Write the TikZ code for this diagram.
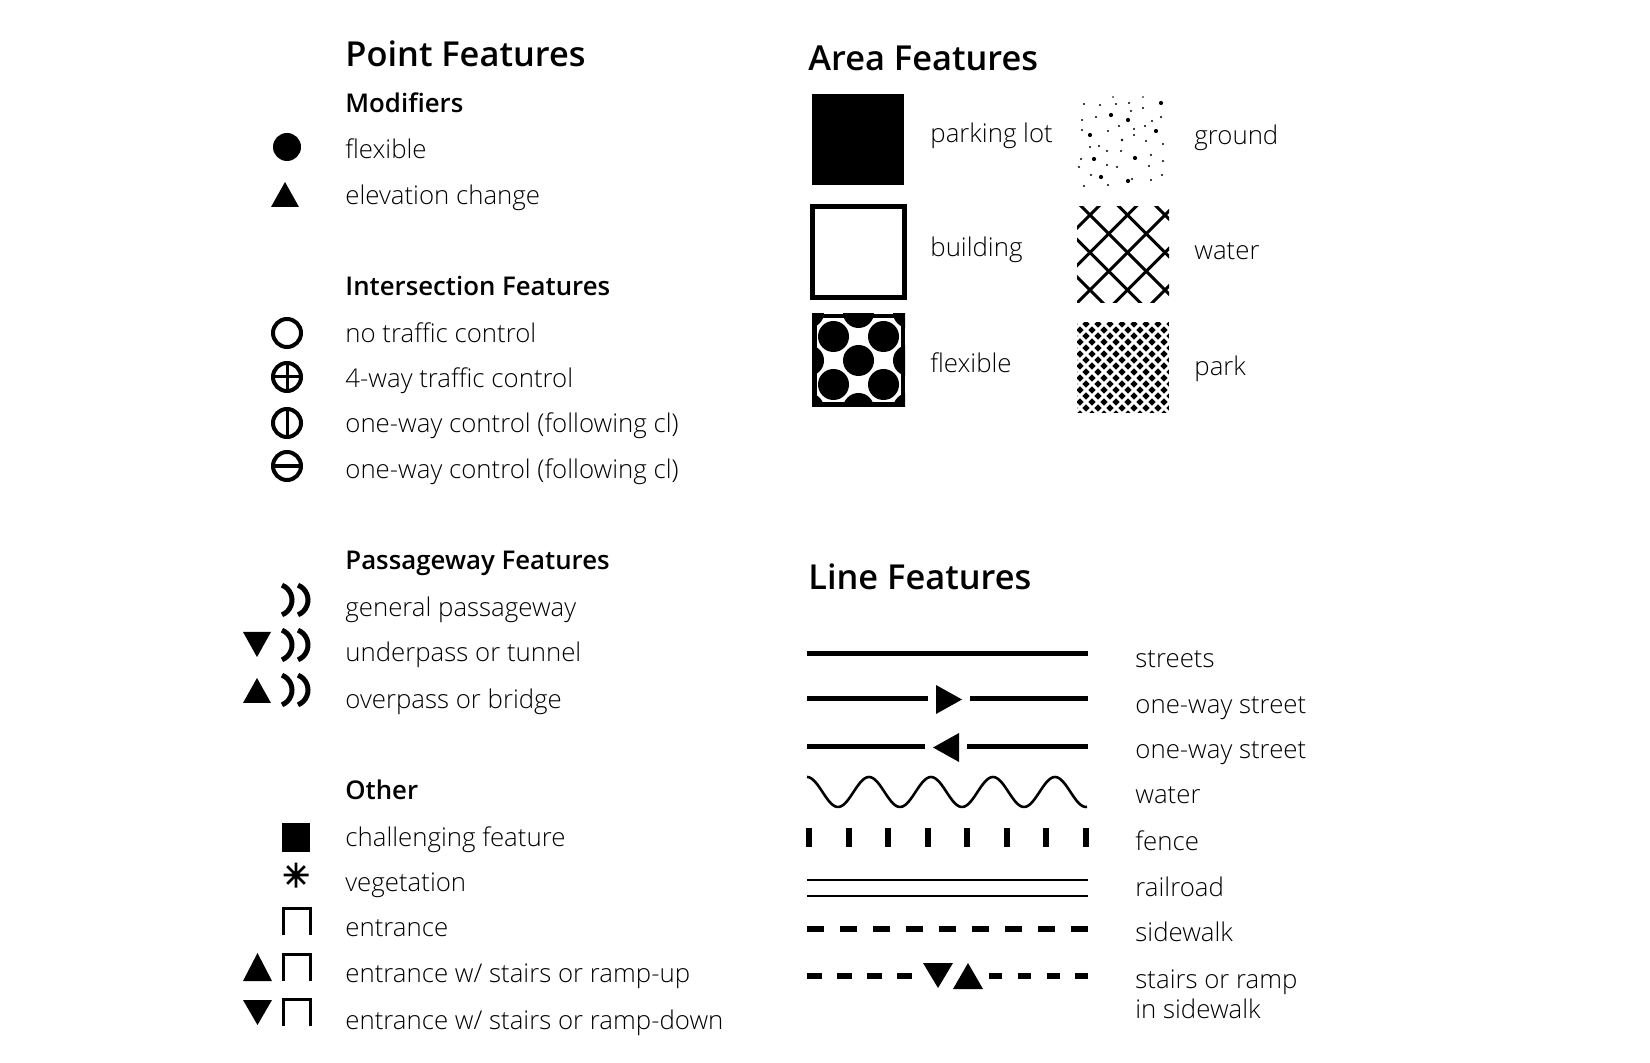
\documentclass[tikz,border=0pt]{standalone}
\usepackage{fontspec}
\IfFontExistsTF{Open Sans Light}{\setmainfont{Open Sans Light}}{\setmainfont{Open Sans}}
\IfFontExistsTF{Open Sans SemiBold}{\newfontfamily\headfont{Open Sans SemiBold}}{%
  \IfFontExistsTF{Open Sans Semibold}{\newfontfamily\headfont{Open Sans Semibold}}{%
    \IfFontExistsTF{OpenSans-SemiBold}{\newfontfamily\headfont{OpenSans-SemiBold}}{%
      \newfontfamily\headfont{Open Sans Bold}}}}
\usetikzlibrary{positioning}

\begin{document}
\begin{tikzpicture}[
    x=0.5pt, y=-0.5pt,
    txt/.style={anchor=base west, inner sep=0pt, font=\fontsize{12.9}{15}\selectfont},
    head/.style={txt, font=\fontsize{12.9}{15}\selectfont\headfont},
    title/.style={txt, font=\fontsize{17.2}{20}\selectfont\headfont},
    ring/.style={draw=black, line width=2pt},
    bar/.style={draw=black, line width=1.5pt},
    cres/.style={draw=black, line width=2.5pt},
    ent/.style={draw=black, line width=1.5pt},
    street/.style={draw=black, line width=2.5pt},
    thin/.style={draw=black, line width=1.3pt},
    hatch/.style={draw=black, line width=1.5pt},
    parkline/.style={draw=white, line width=1.5pt},
]
\useasboundingbox (0,0) rectangle (1650,1063);

% ---- Point features ------------------------------------------------
\node[title] (pt-title) at (345,67) {Point Features};

\node[head] (mod-head) at (345,113) {Modifiers};
\fill (287,147) circle[radius=14];
\node[txt] (mod-flex) at (345,159) {flexible};
\fill (271,207) -- (299,207) -- (285,182) -- cycle;
\node[txt] (mod-elev) at (345,205) {elevation change};

\node[head] (int-head) at (345,296) {Intersection Features};
\draw[ring] (287,333) circle[radius=14];
\node[txt] (int-none) at (345,343) {no traffic control};
\draw[ring] (287,377) circle[radius=14];
\draw[bar] (273,377) -- (301,377) (287,363) -- (287,391);
\node[txt] (int-four) at (345,388) {4-way traffic control};
\draw[ring] (287,423) circle[radius=14];
\draw[bar] (287,409) -- (287,437);
\node[txt] (int-onea) at (345,433) {one-way control (following cl)};
\draw[ring] (287,466) circle[radius=14];
\draw[ring] (273,466) -- (301,466);
\node[txt] (int-oneb) at (345,479) {one-way control (following cl)};

\node[head] (pass-head) at (345,570) {Passageway Features};
\foreach \y in {600,645,690} {
    \draw[cres] ([shift={(-68:16)}]276,\y) arc[start angle=-68, end angle=68, radius=16];
    \draw[cres] ([shift={(-68:16)}]292,\y) arc[start angle=-68, end angle=68, radius=16];
}
\node[txt] (pass-gen) at (345,617) {general passageway};
\fill (243,632) -- (271,632) -- (257,657) -- cycle;
\node[txt] (pass-under) at (345,662) {underpass or tunnel};
\fill (243,703) -- (271,703) -- (257,678) -- cycle;
\node[txt] (pass-over) at (345,709) {overpass or bridge};

\node[head] (oth-head) at (345,799) {Other};
\fill (282,823) rectangle (310,852);
\node[txt] (oth-chal) at (345,846) {challenging feature};
\draw[thin, shift={(296,875)}] \foreach \a in {0,45,90,135} {(\a:12.5) -- (\a+180:12.5)};
\node[txt] (oth-veg) at (345,891) {vegetation};
\draw[ent] (283.5,935) -- (283.5,908.5) -- (310.5,908.5) -- (310.5,935);
\node[txt] (oth-ent) at (345,936) {entrance};
\fill (243,981) -- (272,981) -- (257.5,953) -- cycle;
\draw[ent] (283.5,981) -- (283.5,954.5) -- (310.5,954.5) -- (310.5,981);
\node[txt] (oth-up) at (345,982) {entrance w/ stairs or ramp-up};
\fill (243,1000) -- (272,1000) -- (257.5,1025) -- cycle;
\draw[ent] (283.5,1026) -- (283.5,999.5) -- (310.5,999.5) -- (310.5,1026);
\node[txt] (oth-down) at (345,1029) {entrance w/ stairs or ramp-down};

% ---- Area features -------------------------------------------------
\node[title] (ar-title) at (808,71) {Area Features};

\fill (812,94) rectangle (904,185);
\node[txt] (ar-lot) at (930,143) {parking lot};
\draw[black, line width=2.5pt] (812.5,206.5) rectangle (904.5,297.5);
\node[txt] (ar-bldg) at (930,257) {building};
\begin{scope}
    \clip (812,314) rectangle (905,407);
    \fill (812,314) rectangle (905,407);
    \fill[white] (816.5,318.5) rectangle (900.5,402.5);
    \foreach \a/\b in {-2/-2,-2/0,-2/2,-1/-1,-1/1,0/-2,0/0,0/2,1/-1,1/1,2/-2,2/0,2/2}
        \fill (858.5+25*\a,360.5+24*\b) circle[radius=15.5];
\end{scope}
\node[txt] (ar-flex) at (930,373) {flexible};

\foreach \x/\y/\r in {1113/97/0.8,1143/97/0.8,1084/104/1.2,1100/105/1.2,1116/104/1.2,
    1129/103/1.2,1161/103/2.1,1143/108/1.2,1131/111/1.2,1111/115/2.1,1096/117/1.2,
    1128/120/2.1,1152/121/1.2,1161/117/1.2,1082/120/1.2,1119/126/1.2,1145/126/1.2,
    1134/129/1.2,1082/130/1.2,1108/131/1.2,1156/131/2.1,1090/135/2.1,1134/135/1.2,
    1122/140/1.4,1146/141/1.2,1163/144/1.2,1099/146/1.2,1090/147/1.2,1107/151/1.2,
    1121/151/1.2,1151/155/1.2,1135/158/2.1,1094/159/2.1,1081/159/1.2,1163/161/1.2,
    1107/165/1.2,1149/166/1.2,1079/167/1.2,1117/167/1.2,1091/175/1.2,1101/177/2.1,
    1162/175/1.2,1132/179/1.2,1128/181/2.1,1151/180/1.2,1084/186/1.2,1108/185/1.2}
    \fill (\x,\y) circle[radius=\r];
\node[txt] (ar-ground) at (1194,145) {ground};

\begin{scope}
    \clip (1077,207) rectangle (1169,303);
    \foreach \k in {-1,...,5}
        \draw[hatch] (1040,1305+37.5*\k-1040) -- (1200,1305+37.5*\k-1200);
    \foreach \k in {-3,...,3}
        \draw[hatch] (1040,1040-875-37.5*\k) -- (1200,1200-875-37.5*\k);
\end{scope}
\node[txt] (ar-water) at (1194,260) {water};

\begin{scope}
    \clip (1077,322) rectangle (1169,413);
    \fill (1077,322) rectangle (1169,413);
    \foreach \c in {1392,1404,...,1596}
        \draw[parkline] (1060,\c-1060) -- (1190,\c-1190);
    \foreach \c in {648,660,...,864}
        \draw[parkline] (1060,1060-\c) -- (1190,1190-\c);
\end{scope}
\node[txt] (ar-park) at (1194,376) {park};

% ---- Line features -------------------------------------------------
\node[title] (ln-title) at (808,590) {Line Features};

\draw[street] (807,654) -- (1088,654);
\node[txt] (ln-street) at (1135,668) {streets};

\draw[street] (807,699) -- (928,699) (970,699) -- (1088,699);
\fill (936,685) -- (962,699.5) -- (936,714) -- cycle;
\node[txt] (ln-onea) at (1135,714) {one-way street};

\draw[street] (807,747) -- (925,747) (967,747) -- (1088,747);
\fill (959,733) -- (933,747.5) -- (959,762) -- cycle;
\node[txt] (ln-oneb) at (1135,759) {one-way street};

\draw[black, line width=1.3pt] plot[domain=0:280, samples=141, smooth] ({807+\x},{792-15*cos(\x*5.80645)});
\node[txt] (ln-water) at (1135,804) {water};

\foreach \i in {0,...,7}
    \fill (806+39.5*\i,828) rectangle ++(6,19);
\node[txt] (ln-fence) at (1135,850) {fence};

\draw[thin] (807,880) -- (1088,880) (807,896) -- (1088,896);
\node[txt] (ln-rail) at (1135,896) {railroad};

\foreach \i in {0,...,8}
    \fill (807+33*\i,926) rectangle ++(17,6);
\node[txt] (ln-walk) at (1135,941) {sidewalk};

\foreach \x in {807,837,867,897}
    \fill (\x,973) rectangle ++(15,6);
\foreach \x in {989,1018,1047,1075}
    \fill (\x,973) rectangle ++(13,6);
\fill (923,963) -- (953,963) -- (938,988) -- cycle;
\fill (953,989) -- (983,989) -- (968,963) -- cycle;
\node[txt] (ln-stair) at (1135,988) {stairs or ramp};
\node[txt] (ln-stair2) at (1135,1018) {in sidewalk};

\end{tikzpicture}
\end{document}
